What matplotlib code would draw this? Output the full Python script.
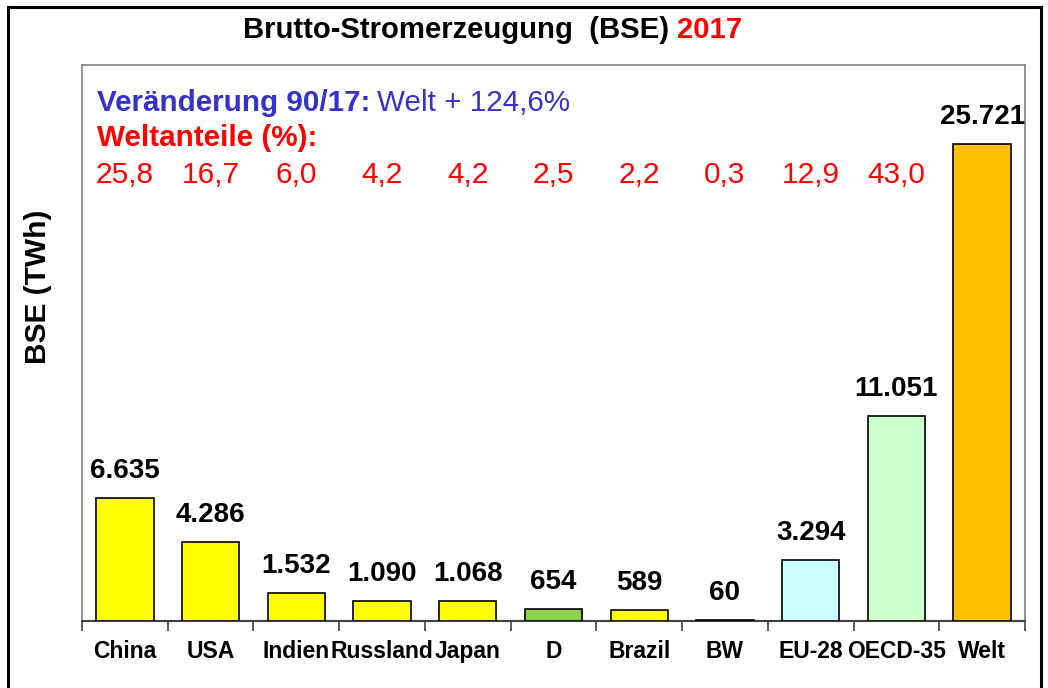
import matplotlib
matplotlib.use("Agg")
import matplotlib.pyplot as plt
from matplotlib.lines import Line2D

categories = ["China", "USA", "Indien", "Russland", "Japan", "D", "Brazil", "BW", "EU-28", "OECD-35", "Welt"]
values = [6635, 4286, 1532, 1090, 1068, 654, 589, 60, 3294, 11051, 25721]
value_labels = ["6.635", "4.286", "1.532", "1.090", "1.068", "654", "589", "60", "3.294", "11.051", "25.721"]
shares = ["25,8", "16,7", "6,0", "4,2", "4,2", "2,5", "2,2", "0,3", "12,9", "43,0"]
colors = ["#FFFF00", "#FFFF00", "#FFFF00", "#FFFF00", "#FFFF00", "#92D050", "#FFFF00", "#FFFF00",
          "#CCFFFF", "#CCFFCC", "#FFC000"]

plt.rcParams['font.family'] = ['Liberation Sans', 'DejaVu Sans']

W, H = 1048, 688
fig = plt.figure(figsize=(W / 100, H / 100), dpi=100)

def fx(x):
    return x / W

def fy(y):
    return 1 - y / H

# outer frame
for xs, ys in [((8, 8), (7, 700)), ((8, 1041), (7, 7)), ((1041, 1041), (7, 700))]:
    fig.add_artist(Line2D([fx(xs[0]), fx(xs[1])], [fy(ys[0]), fy(ys[1])], color="black", lw=2.2))

left, right, top, bottom = 82, 1025, 65, 621
ax = fig.add_axes([fx(left), fy(bottom), fx(right - left), (bottom - top) / H])

x = list(range(len(categories)))
ax.bar(x, values, width=0.67, color=colors, edgecolor="black", linewidth=1.2, zorder=3)
ax.set_xlim(-0.5, len(categories) - 0.5)
ax.set_ylim(0, 30000)
ax.set_yticks([])
ax.set_xticks([i - 0.5 for i in range(len(categories) + 1)], minor=False)
ax.set_xticklabels([])
ax.set_xticks(x, minor=True)
ax.set_xticklabels(categories, minor=True, fontsize=16.5, fontweight="bold")
ax.tick_params(axis="x", which="major", length=7, width=1.2, color="#404040", direction="out")
ax.tick_params(axis="x", which="minor", length=0, pad=14)
for s in ["left", "right", "top"]:
    ax.spines[s].set_color("#808080")
    ax.spines[s].set_linewidth(1.2)
ax.spines["bottom"].set_color("#404040")
ax.spines["bottom"].set_linewidth(1.5)

for i, (v, lab) in enumerate(zip(values, value_labels)):
    ax.annotate(lab, (i, v), xytext=(0, 10), textcoords="offset points",
                ha="center", va="bottom", fontsize=20, fontweight="bold", color="black")

# share labels at y pixel 175
for i, s in enumerate(shares):
    ax.annotate(s, xy=(i, (bottom - 175) / (bottom - top)), xycoords=("data", "axes fraction"),
                ha="center", va="center", fontsize=21.5, color="#FF0000")

blue = "#3333CC"
t1 = fig.text(fx(97), fy(103), "Veränderung 90/17:", fontsize=21.3, fontweight="bold", color=blue,
              ha="left", va="center")
fig.canvas.draw()
bb = t1.get_window_extent()
fig.text(bb.x1 / W + fx(7), fy(103), "Welt + 124,6%", fontsize=21.3, color=blue, ha="left", va="center")
fig.text(fx(97), fy(138), "Weltanteile (%):", fontsize=21.3, fontweight="bold", color="#FF0000",
         ha="left", va="center")

tt = fig.text(fx(243), fy(30), "Brutto-Stromerzeugung  (BSE) ", fontsize=21.1, fontweight="bold",
              color="black", ha="left", va="center")
fig.canvas.draw()
bb = tt.get_window_extent()
fig.text(bb.x1 / W, fy(30), "2017", fontsize=21.1, fontweight="bold", color="#FF0000", ha="left", va="center")

fig.text(fx(38), fy(287), "BSE (TWh)", rotation=90, fontsize=21.5, fontweight="bold",
         ha="center", va="center")

fig.savefig("out.png", dpi=100)
